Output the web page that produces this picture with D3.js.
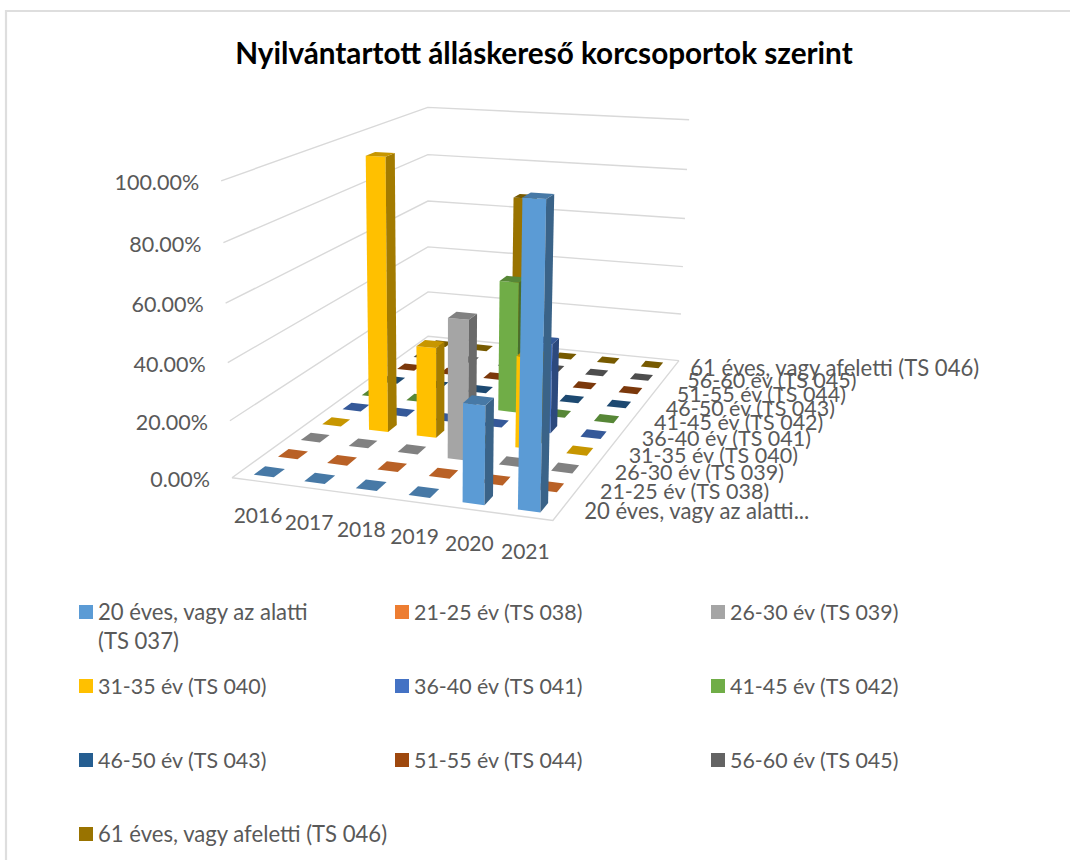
<!DOCTYPE html>
<html><head><meta charset="utf-8">
<script src="https://cdn.jsdelivr.net/npm/d3@7"></script>
<style>html,body{margin:0;padding:0;background:#fff;overflow:hidden}text{font-family:Lato,"Open Sans",sans-serif}</style>
</head><body><div id="chart"></div>
<script>
const years = ["2016","2017","2018","2019","2020","2021"];
const seriesNames = ["20 éves, vagy az alatti (TS 037)","21-25 év (TS 038)","26-30 év (TS 039)","31-35 év (TS 040)","36-40 év (TS 041)","41-45 év (TS 042)","46-50 év (TS 043)","51-55 év (TS 044)","56-60 év (TS 045)","61 éves, vagy afeletti (TS 046)"];
const axisSeriesLabels = ["20 éves, vagy az alatti...","21-25 év (TS 038)","26-30 év (TS 039)","31-35 év (TS 040)","36-40 év (TS 041)","41-45 év (TS 042)","46-50 év (TS 043)","51-55 év (TS 044)","56-60 év (TS 045)","61 éves, vagy afeletti (TS 046)"];
const colors = ["#5B9BD5","#ED7D31","#A5A5A5","#FFC000","#4472C4","#70AD47","#255E91","#9E480E","#636363","#997300"];
const yTicks = [0,20,40,60,80,100];
const s0 = [0,0,0,0,33.33,100];
const s1 = [0,0,0,0,0,0];
const s2 = [0,0,0,50,0,0];
const s3 = [0,100,33.33,0,33.33,0];
const s4 = [0,0,0,0,33.33,0];
const s5 = [0,0,0,50,0,0];
const s6 = [0,0,0,0,0,0];
const s7 = [0,0,0,0,0,0];
const s8 = [0,0,0,0,0,0];
const s9 = [0,0,66.67,0,0,0];
const values = [s0,s1,s2,s3,s4,s5,s6,s7,s8,s9];

const W=1070,H=860;
const svg=d3.select("#chart").append("svg").attr("width",W).attr("height",H).style("display","block");

// Camera: fit a projective map of the unit cube to the visible box corners
const anchors=[[0,0,0,232,477],[1,0,0,553,521],[0,1,0,428,337],[1,1,0,679,360],[0,0,1,221,181],[0,1,1,428,107],[1,1,1,689,120]];
function solve(A,b){const n=b.length,M=A.map((r,i)=>[...r,b[i]]);
 for(let i=0;i<n;i++){let p=i;for(let k=i+1;k<n;k++)if(Math.abs(M[k][i])>Math.abs(M[p][i]))p=k;[M[i],M[p]]=[M[p],M[i]];
  for(let k=0;k<n;k++){if(k===i)continue;const f=M[k][i]/M[i][i];for(let j=i;j<=n;j++)M[k][j]-=f*M[i][j];}}
 return M.map((r,i)=>r[n]/r[i]);}
const rows=[],rhs=[];
anchors.forEach(([u,v,w,x,y])=>{
 rows.push([1,u,v,w,0,0,0,0,-x*u,-x*v,-x*w]);rhs.push(x);
 rows.push([0,0,0,0,1,u,v,w,-y*u,-y*v,-y*w]);rhs.push(y);});
const ATA=d3.range(11).map(i=>d3.range(11).map(j=>d3.sum(rows,r=>r[i]*r[j])));
const ATb=d3.range(11).map(i=>d3.sum(rows,(r,k)=>r[i]*rhs[k]));
const c=solve(ATA,ATb);
function project(u,v,w){const d=1+c[8]*u+c[9]*v+c[10]*w;
 return [(c[0]+c[1]*u+c[2]*v+c[3]*w)/d,(c[4]+c[5]*u+c[6]*v+c[7]*w)/d];}

const uScale=d3.scaleBand().domain(years).range([0,1]).paddingInner(0.6).paddingOuter(0.3);
const vScale=d3.scaleBand().domain(seriesNames).range([0,1]).paddingInner(0.54).paddingOuter(0.27);
const wScale=d3.scaleLinear().domain([0,100]).range([0,1]);
const line=d3.line();

// border: left and top edges only
svg.append("path").attr("d",line([[6,860],[6,11],[1070,11]])).attr("fill","none").attr("stroke","#dedede").attr("stroke-width",2.2);

// title
svg.append("text").attr("x",544).attr("y",64).attr("text-anchor","middle").attr("font-size",29.7).attr("font-weight",700).attr("fill","#000").text("Nyilvántartott álláskereső korcsoportok szerint");

// grid
const grid=svg.append("g").attr("fill","none").attr("stroke","#d9d9d9").attr("stroke-width",1.4);
yTicks.forEach(t=>{const w=wScale(t);
 grid.append("path").attr("d",line([project(0,0,w),project(0,1,w),project(1,1,w)]));});
grid.append("path").attr("d",line([project(0,0,0),project(1,0,0),project(1,1,0)]));

// y labels
svg.append("g").selectAll("text").data(yTicks).join("text")
 .attr("x",t=>project(0,0,wScale(t))[0]-22)
 .attr("y",t=>project(0,0,wScale(t))[1]+9)
 .attr("text-anchor","end").attr("font-size",21.5).attr("fill","#595959")
 .text(t=>t.toFixed(2)+"%");

// x labels
svg.append("g").selectAll("text").data(years).join("text")
 .attr("x",y=>project(uScale(y)+uScale.bandwidth()/2,0,0)[0]+1)
 .attr("y",y=>project(uScale(y)+uScale.bandwidth()/2,0,0)[1]+42)
 .attr("text-anchor","middle").attr("font-size",21).attr("fill","#595959").text(y=>y);

// series labels
svg.append("g").selectAll("text").data(seriesNames).join("text")
 .attr("x",(s,i)=>project(1,vScale(s)+vScale.bandwidth()/2,0)[0]+(i===9?16:23))
 .attr("y",s=>project(1,vScale(s)+vScale.bandwidth()/2,0)[1]+9)
 .attr("font-size",s=>s.includes("éves")?22.1:21.5).attr("fill","#595959").text((s,i)=>axisSeriesLabels[i]);

// bars, painted back to front
const marks=[];
seriesNames.forEach((s,j)=>years.forEach((y,i)=>marks.push({i,j,y,s,val:values[j][i]})));
marks.sort((a,b)=>b.j-a.j||a.i-b.i);
const shade=(col,k)=>d3.rgb(col).darker(k).formatHex();
const bars=svg.append("g");
marks.forEach(m=>{
 const u0=uScale(m.y),u1=u0+uScale.bandwidth(),v0=vScale(m.s),v1=v0+vScale.bandwidth(),h=wScale(m.val),col=colors[m.j];
 const g=bars.append("g");
 const face=(pts,fill)=>g.append("path").attr("d",line(pts.map(p=>project(...p)))+"Z").attr("fill",fill);
 if(m.val>0){
  face([[u0,v0,0],[u1,v0,0],[u1,v0,h],[u0,v0,h]],col);
  face([[u1,v0,0],[u1,v1,0],[u1,v1,h],[u1,v0,h]],shade(col,1.25));
 }
 face([[u0,v0,h],[u1,v0,h],[u1,v1,h],[u0,v1,h]],shade(col,0.7));
});

// legend
const legX=[79,395,711],legY=[605,679,753,827];
const leg=svg.append("g").selectAll("g").data(seriesNames).join("g")
 .attr("transform",(s,i)=>`translate(${legX[i%3]},${legY[Math.floor(i/3)]})`);
leg.append("rect").attr("width",14).attr("height",14).attr("fill",(s,i)=>colors[i]);
leg.each(function(s,i){
 const t=d3.select(this).append("text").attr("x",19).attr("y",15).attr("font-size",s.includes("éves")?22.1:21.4).attr("fill","#595959");
 if(i===0){t.append("tspan").text("20 éves, vagy az alatti");t.append("tspan").attr("x",19).attr("dy",29).text("(TS 037)");}
 else t.text(s);
});
</script></body></html>
